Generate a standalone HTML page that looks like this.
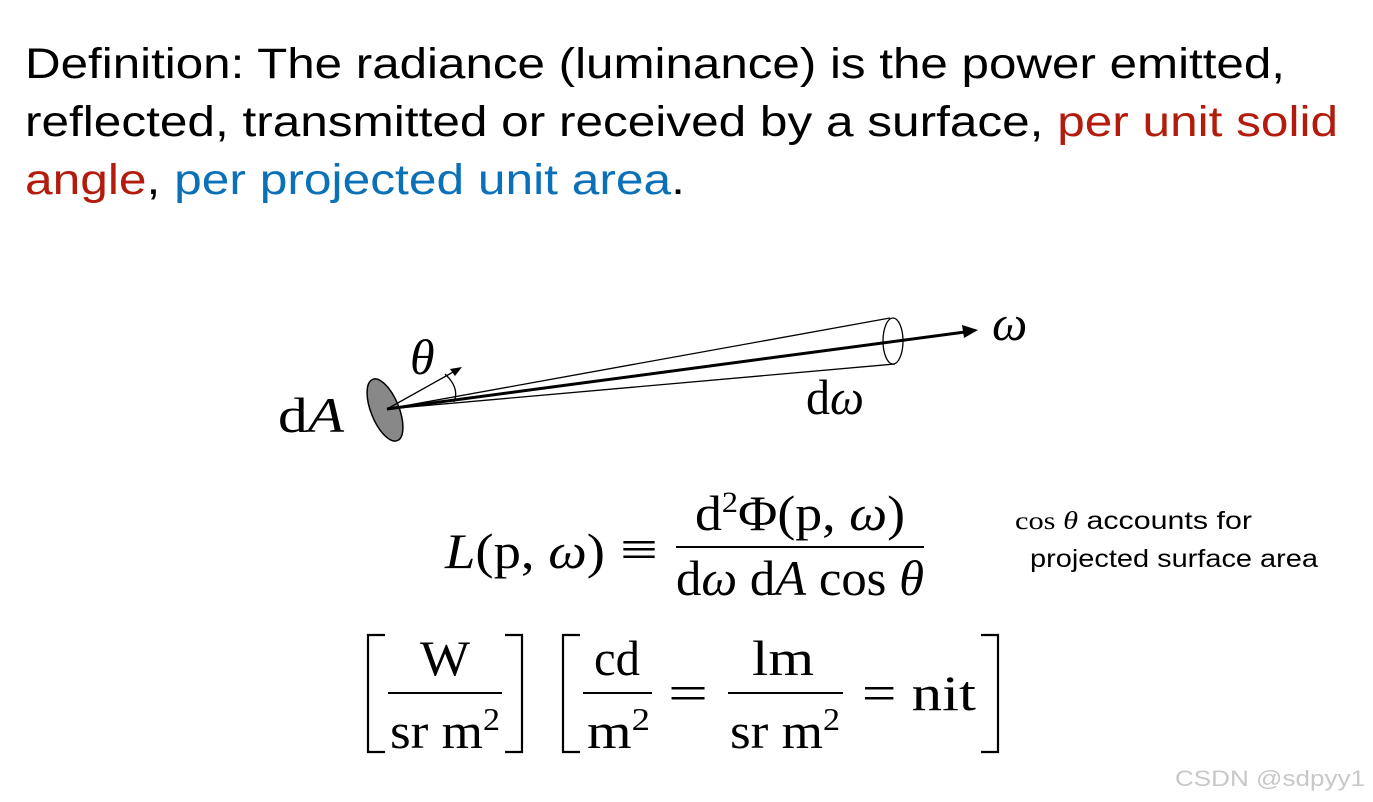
<!DOCTYPE html>
<html><head><meta charset="utf-8"><style>
html,body{margin:0;padding:0;background:#fff;}
svg{display:block;}
.t{font-family:"Liberation Sans",sans-serif;font-size:43px;fill:#000;}
.m{font-family:"Liberation Serif",serif;font-size:50px;fill:#000;}
.s{font-family:"Liberation Sans",sans-serif;font-size:25px;fill:#000;}
</style></head><body>
<svg width="1373" height="802" viewBox="0 0 1373 802" xmlns="http://www.w3.org/2000/svg">
<text class="t" x="25" y="78" textLength="1260" lengthAdjust="spacingAndGlyphs">Definition: The radiance (luminance) is the power emitted,</text>
<text class="t" x="25" y="136" textLength="1313" lengthAdjust="spacingAndGlyphs">reflected, transmitted or received by a surface, <tspan fill="#b31b0c">per unit solid</tspan></text>
<text class="t" x="25" y="194" textLength="660" lengthAdjust="spacingAndGlyphs"><tspan fill="#b31b0c">angle</tspan>, <tspan fill="#0a70b8">per projected unit area</tspan>.</text>

<!-- diagram -->
<ellipse cx="385" cy="410" rx="14" ry="33" transform="rotate(-22 385 410)" fill="#888" stroke="#000" stroke-width="1.5"/>
<line x1="387" y1="409" x2="890" y2="318" stroke="#000" stroke-width="1.3"/>
<line x1="387" y1="409" x2="895" y2="364" stroke="#000" stroke-width="1.3"/>
<ellipse cx="893" cy="341" rx="10" ry="23" fill="none" stroke="#000" stroke-width="1.3"/>
<line x1="387" y1="409" x2="965" y2="332" stroke="#000" stroke-width="3"/>
<polygon points="978,330 962,325 964,338" fill="#000"/>
<line x1="387" y1="409" x2="455" y2="371" stroke="#000" stroke-width="1.3"/>
<polygon points="462,367 450,369 455,376" fill="#000"/>
<path d="M445,374 Q460,388 454,402" fill="none" stroke="#000" stroke-width="1.3"/>
<text class="m" x="410" y="374" font-style="italic" font-size="44">θ</text>
<text class="m" x="278" y="432" font-size="46" textLength="66" lengthAdjust="spacingAndGlyphs">d<tspan font-style="italic">A</tspan></text>
<text class="m" x="806" y="414" font-size="44" textLength="58" lengthAdjust="spacingAndGlyphs">d<tspan font-style="italic">ω</tspan></text>
<text class="m" x="992" y="340" font-style="italic" font-size="62">ω</text>

<!-- main equation -->
<text class="m" x="445" y="568" textLength="160" lengthAdjust="spacingAndGlyphs"><tspan font-style="italic">L</tspan>(p, <tspan font-style="italic">ω</tspan>)</text>
<text class="m" x="620" y="566" textLength="38" lengthAdjust="spacingAndGlyphs">≡</text>
<text class="m" x="695" y="530" textLength="210" lengthAdjust="spacingAndGlyphs">d<tspan font-size="30" dy="-18">2</tspan><tspan dy="18">Φ(p, </tspan><tspan font-style="italic">ω</tspan>)</text>
<line x1="676" y1="547" x2="924" y2="547" stroke="#000" stroke-width="2"/>
<text class="m" x="676" y="595" textLength="248" lengthAdjust="spacingAndGlyphs">d<tspan font-style="italic">ω</tspan> d<tspan font-style="italic">A</tspan> cos <tspan font-style="italic">θ</tspan></text>

<text class="s" x="1015" y="529" textLength="237" lengthAdjust="spacingAndGlyphs"><tspan font-family="Liberation Serif">cos <tspan font-style="italic">θ</tspan></tspan>  accounts for</text>
<text class="s" x="1030" y="567" textLength="288" lengthAdjust="spacingAndGlyphs">projected surface area</text>

<!-- units -->
<g fill="none" stroke="#000" stroke-width="2.2">
<path d="M385,635 H368 V752 H385"/>
<path d="M505,635 H522 V752 H505"/>
<path d="M580,635 H563 V752 H580"/>
<path d="M981,635 H998 V752 H981"/>
</g>
<text class="m" x="420" y="675" textLength="50" lengthAdjust="spacingAndGlyphs">W</text>
<line x1="388" y1="693" x2="502" y2="693" stroke="#000" stroke-width="2"/>
<text class="m" x="390" y="748" textLength="110" lengthAdjust="spacingAndGlyphs">sr m<tspan font-size="32" dy="-18">2</tspan></text>
<text class="m" x="594" y="675" textLength="46" lengthAdjust="spacingAndGlyphs">cd</text>
<line x1="583" y1="693" x2="652" y2="693" stroke="#000" stroke-width="2"/>
<text class="m" x="587" y="748" textLength="63" lengthAdjust="spacingAndGlyphs">m<tspan font-size="32" dy="-18">2</tspan></text>
<text class="m" x="668" y="710" textLength="40" lengthAdjust="spacingAndGlyphs">=</text>
<text class="m" x="752" y="675" textLength="62" lengthAdjust="spacingAndGlyphs">lm</text>
<line x1="728" y1="693" x2="843" y2="693" stroke="#000" stroke-width="2"/>
<text class="m" x="730" y="748" textLength="110" lengthAdjust="spacingAndGlyphs">sr m<tspan font-size="32" dy="-18">2</tspan></text>
<text class="m" x="862" y="710" textLength="114" lengthAdjust="spacingAndGlyphs">= nit</text>

<text x="1175" y="786" font-family="Liberation Sans,sans-serif" font-size="22" fill="#c8c8c8" textLength="190" lengthAdjust="spacingAndGlyphs">CSDN @sdpyy1</text>
</svg>
</body></html>
